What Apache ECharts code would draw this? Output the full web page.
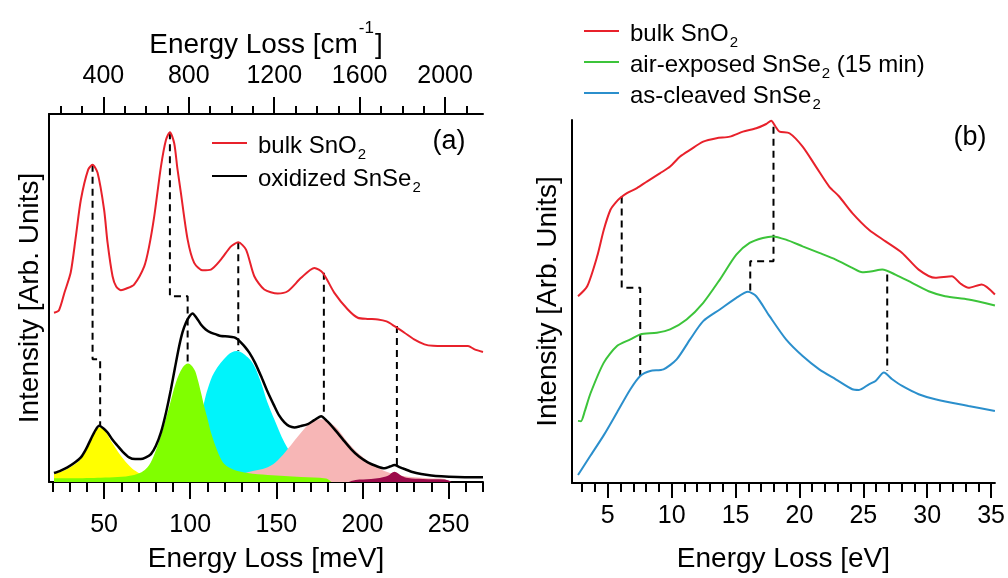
<!DOCTYPE html>
<html><head><meta charset="utf-8">
<script src="https://cdn.jsdelivr.net/npm/echarts@6.0.0/dist/echarts.min.js"></script>
<style>html,body{margin:0;padding:0;background:#fff}#c{width:1008px;height:578px}</style>
</head><body><div id="c"></div>
<script>
// ---------- Panel (a): HREELS, energy loss in meV ----------
const aTicksMajor = [50, 100, 150, 200, 250];
const aTicksMinor = [20, 30, 40, 60, 70, 80, 90, 110, 120, 130, 140, 160, 170, 180, 190, 210, 220, 230, 240, 260, 270];
const aTopTicksMajor = [400, 800, 1200, 1600, 2000];               // cm^-1
const aTopTicksMinor = [200, 300, 500, 600, 700, 900, 1000, 1100, 1300, 1400, 1500, 1700, 1800, 1900, 2100];

const bulkSnO2_a = [[20.9,169.7],[23.8,172.3],[27,190],[30.6,210],[33.5,245],[36.5,283],[40.7,313],[43.3,318],[46.2,310],[50,273],[52,240],[54.9,206.3],[57,196],[59.7,192.3],[63,194],[67.4,198],[73.3,216.3],[76,235],[79.1,266.3],[83,316.3],[85.9,343],[88.2,350.7],[90.7,339.7],[92.5,315],[94.6,289.7],[98.5,243],[102.3,219.7],[107.2,212.3],[112,213],[117.8,223],[123.7,236.3],[127.9,240.3],[132.4,233],[137.2,206.3],[143,193],[150.8,189],[156.6,191.3],[164.4,204.7],[172.1,214.7],[177,209.7],[183.7,189.7],[191.5,173],[197.3,164.7],[203,163.5],[209,163],[214,161],[218.6,156.3],[224.4,149.7],[230,143],[236,138],[241,136.5],[247.7,136.3],[255,136.3],[261.3,136.3],[265.1,133],[270,130.3]];

const oxidizedSnSe2 = [[20.9,9],[24.8,11.5],[28.7,14.7],[32.6,19],[36.5,24.7],[39.5,33],[42.3,43],[45,52],[47.1,56.3],[49.5,54],[52,49.7],[55,42],[57.8,36.3],[61,30],[64.5,24.7],[68,23],[71.3,23],[74,24.5],[77.2,28],[80,36],[83,49.7],[86,70],[88.8,93],[91.2,115],[93.6,136.3],[95.5,150],[97.5,159.7],[99.5,166],[101.4,169],[103.5,165],[106.2,158],[109,153],[112,149.7],[115,148],[117.8,146.3],[122,146],[125.6,145],[127.6,143],[129.5,139.7],[132,135],[134.3,129.7],[137.5,120],[141.1,106.3],[144.8,91],[148.8,76.3],[151.5,67],[154.7,59.7],[157.5,56],[160.5,54.7],[164,56],[168.3,58],[172,62],[176,66],[179.5,61],[183.7,53],[188.5,43],[193.4,33],[198,25.5],[203.1,19.7],[208,16],[212.8,13.7],[216,15.5],[218.6,17],[221.5,15],[224.4,13],[229,10],[234.1,8],[240,6.5],[245.8,5.7],[255,5],[262,4.8],[270,4.7]];

// fitted components
const compYellow = [[20.9,8],[28.7,13],[36.5,23],[41.3,39.7],[45.2,52],[47.1,54.7],[50,52.3],[53.9,41.3],[59.7,26.3],[65.5,14.7],[69.4,9.7],[75.2,4.7],[85,3],[110,2.5],[130,0]];
const compGreen = [[20.9,3.7],[48.1,4.3],[67.4,7],[75.2,14.7],[81,36.3],[86.9,69.7],[91.7,99.7],[95.6,114.7],[98.8,118.7],[102.3,113],[104.3,103],[106.2,90],[108.1,76],[110.1,63],[112,50],[114.9,35],[117,26],[119.8,18],[125.6,12],[133.4,9],[145,7],[164.4,5],[178.9,3.5],[182,0]];
const compCyan = [[92,5],[97,14],[100.4,30],[104,50],[108.1,80],[110.1,93],[114,110],[121.7,127],[127,131.3],[133.4,125],[137.2,116.3],[141.1,99.7],[144.8,80],[148.8,63],[154.7,39.7],[160,25],[164.4,16.3],[170,10],[174.1,8],[183.5,4.7],[191.5,3],[196,0]];
const compPink = [[106.2,4],[125.4,6.3],[133.4,9.7],[145,14.7],[151,22],[156.6,33],[164.4,49.7],[170.2,59.7],[176,63],[183.7,56.3],[191.5,39.7],[199.3,26.3],[207,16.3],[214.8,9.7],[222.6,6.3],[238,3.7],[247.7,3],[250,0]];
const compMaroon = [[192,0],[196,2],[205,3],[210,4],[214.8,6.3],[218.6,10.3],[222.6,6.3],[226.5,4],[235,3],[247.7,2.5],[252,0]];

const guideA1 = [[43.3,318],[43.3,123],[47.7,123],[47.7,56.3]];
const guideA2 = [[88.2,350.7],[88.2,186.3],[98.5,186.3],[98.5,119.7]];
const guideA3 = [[127.9,240.3],[127.9,131.3]];
const guideA4 = [[177.6,209.7],[177.6,68]];
const guideA5 = [[220,156.3],[220,16.3]];

// ---------- Panel (b): EELS, energy loss in eV ----------
const bTicksMajor = [5, 10, 15, 20, 25, 30, 35];
const bTicksMinor = [3,4,6,7,8,9,11,12,13,14,16,17,18,19,21,22,23,24,26,27,28,29,31,32,33,34];

const bulkSnO2_b = [[2.67,187.3],[3.39,197.3],[4.17,227.3],[4.69,254],[5.21,274],[5.6,281],[5.99,286],[6.5,290.7],[7.28,295.7],[8.06,302.3],[9.1,310.7],[9.88,317.3],[10.66,327.3],[11.44,334],[12.47,342.3],[13.51,345.7],[14.55,347.3],[15.58,352.3],[16.62,355.7],[17.4,360],[17.79,363.3],[18.1,358],[18.44,352.3],[19.22,350.7],[20.25,337.3],[21.29,317.3],[22.33,297.3],[23.11,287.3],[24.14,270.7],[25.44,254],[26.74,242.3],[28.04,230.7],[29.33,214],[30.63,205.7],[31.93,207.3],[32.6,200],[33.23,195.7],[34.26,199],[35.3,189]];
const airExposed = [[2.67,62.3],[2.9,62],[3.2,72],[3.65,90],[4.69,120.7],[5.72,137.3],[6.77,144],[7.54,149],[8.84,150.7],[9.88,154],[11.17,164],[12.47,180.7],[13.77,204],[15.06,229],[16.1,240.7],[17.14,245.7],[17.92,247.3],[18.95,244],[20.25,237.3],[21.55,230.7],[22.84,224],[24.14,215.7],[24.92,211.3],[25.7,212.3],[26.48,214],[27.51,209],[28.81,200.7],[30.11,192.3],[31.4,187.3],[33.23,184],[35.3,178]];
const asCleaved = [[2.67,8],[3.65,27.5],[4.69,48],[5.72,70.7],[6.77,94],[7.54,107.3],[8.32,112.3],[9.36,114],[10.39,124],[11.44,144],[12.47,162.3],[13.77,174],[15.06,185.7],[15.97,191.7],[16.62,187.3],[17.66,167.3],[18.95,144],[20.25,127.3],[21.55,114],[22.84,104],[24.14,94],[24.66,93.3],[25.44,99],[25.96,102.3],[26.61,110.7],[27.26,104],[28.04,97.3],[29.33,89],[30.63,84],[33.23,77.3],[35.3,72.3]];

const guideB1 = [[6.09,287.3],[6.09,195.7],[7.54,195.7],[7.54,107.3]];
const guideB2 = [[17.97,357.3],[17.97,222.3],[16.15,222.3],[16.15,192.3]];
const guideB3 = [[26.87,209],[26.87,112.3]];

// ---------- chart ----------
const FONT = "'Liberation Sans', Arial, Helvetica, sans-serif";
const MEV_TO_CM = 8.0655;
const A_MIN = 18, A_MAX = 270, B_MIN = 2.2, B_MAX = 35.3;

const axisLineStyle = {show: true, onZero: false, lineStyle: {color: '#000', width: 2}};
function xAx(grid, pos, min, max, ticks, len, labels, margin, extra) {
  return Object.assign({
    type: 'value', gridIndex: grid, position: pos, min, max,
    axisLine: axisLineStyle,
    axisTick: {show: true, inside: false, customValues: ticks, length: len, lineStyle: {color: '#000', width: 2}},
    axisLabel: labels ? {show: true, customValues: labels, margin, fontSize: 25, color: '#000', fontFamily: FONT,
                         formatter: v => String(v)} : {show: false},
    splitLine: {show: false}, minorTick: {show: false}
  }, extra || {});
}
const nameStyle = {fontSize: 28, color: '#000', fontFamily: FONT, lineHeight: 28};

const legendRich = {
  t: {fontSize: 24, lineHeight: 24, color: '#000', fontFamily: FONT, verticalAlign: 'top', padding: [3, 0, 0, 6]},
  u: {fontSize: 24, lineHeight: 24, color: '#000', fontFamily: FONT, verticalAlign: 'top', padding: [3, 0, 0, 0]},
  s: {fontSize: 15, lineHeight: 15, color: '#000', fontFamily: FONT, verticalAlign: 'top', padding: [16, 0, 0, 1]}
};
const legendLabels = {
  'bulk SnO2 (a)': '{t|bulk SnO}{s|2}',
  'oxidized SnSe2': '{t|oxidized SnSe}{s|2}',
  'bulk SnO2 (b)': '{t|bulk SnO}{s|2}',
  'air-exposed SnSe2 (15 min)': '{t|air-exposed SnSe}{s|2}{u| (15 min)}',
  'as-cleaved SnSe2': '{t|as-cleaved SnSe}{s|2}'
};
function legendCfg(data, left, top, gap) {
  return {data, left, top, orient: 'vertical', padding: 0, itemGap: gap, itemWidth: 35, itemHeight: 2, icon: 'rect',
    selectedMode: false, formatter: n => legendLabels[n], textStyle: {rich: legendRich}};
}
function line(name, data, xi, yi, color, width, z) {
  return {type: 'line', name, data, xAxisIndex: xi, yAxisIndex: yi, symbol: 'none', color,
    lineStyle: {color, width}, z: z || 4, smooth: 0.25};
}
function fill(name, data, color) {
  return {type: 'line', name, data, xAxisIndex: 0, yAxisIndex: 0, symbol: 'none', smooth: 0.35,
    lineStyle: {width: 0}, areaStyle: {color, opacity: 1}, z: 2, color};
}
function guide(name, data, xi, yi) {
  return {type: 'line', name, data, xAxisIndex: xi, yAxisIndex: yi, symbol: 'none',
    lineStyle: {color: '#000', width: 2, type: [7, 5]}, z: 3, silent: true};
}

const chart = echarts.init(document.getElementById('c'), null, {renderer: 'canvas'});
chart.setOption({
  animation: false,
  backgroundColor: '#fff',
  textStyle: {fontFamily: FONT},
  grid: [
    {left: 49, right: 525, top: 114, bottom: 95},
    {left: 572, right: 11, top: 120, bottom: 94}
  ],
  xAxis: [
    xAx(0, 'bottom', A_MIN, A_MAX, aTicksMajor, 17, aTicksMajor, 31,
        {name: 'Energy Loss [meV]', nameLocation: 'middle', nameGap: 63, nameTextStyle: nameStyle}),
    xAx(0, 'bottom', A_MIN, A_MAX, aTicksMinor, 10, null, 0, {axisLine: {show: false}}),
    xAx(0, 'top', A_MIN * MEV_TO_CM, A_MAX * MEV_TO_CM, aTopTicksMajor, 17, aTopTicksMajor, 25,
        {name: '{t|Energy Loss [cm}{p|-1}{t|]}', nameLocation: 'middle', nameGap: 62,
         nameTextStyle: {rich: {
           t: {fontSize: 28, lineHeight: 28, color: '#000', fontFamily: FONT, verticalAlign: 'top', padding: [11, 0, 0, 0]},
           p: {fontSize: 17, lineHeight: 17, color: '#000', fontFamily: FONT, verticalAlign: 'top', padding: [0, 1, 0, 1]}
         }}}),
    xAx(0, 'top', A_MIN * MEV_TO_CM, A_MAX * MEV_TO_CM, aTopTicksMinor, 8, null, 0, {axisLine: {show: false}}),
    xAx(1, 'bottom', B_MIN, B_MAX, bTicksMajor, 15, bTicksMajor, 21,
        {name: 'Energy Loss [eV]', nameLocation: 'middle', nameGap: 62, nameTextStyle: nameStyle}),
    xAx(1, 'bottom', B_MIN, B_MAX, bTicksMinor, 9, null, 0, {axisLine: {show: false}})
  ],
  yAxis: [
    {type: 'value', gridIndex: 0, min: 0, max: 369, axisLine: axisLineStyle, axisTick: {show: false},
     axisLabel: {show: false}, splitLine: {show: false},
     name: 'Intensity [Arb. Units]', nameLocation: 'middle', nameGap: 5, nameTextStyle: nameStyle},
    {type: 'value', gridIndex: 1, min: 0, max: 364, axisLine: axisLineStyle, axisTick: {show: false},
     axisLabel: {show: false}, splitLine: {show: false},
     name: 'Intensity [Arb. Units]', nameLocation: 'middle', nameGap: 10, nameTextStyle: nameStyle}
  ],
  legend: [
    legendCfg(['bulk SnO2 (a)', 'oxidized SnSe2'], 212, 131, 2),
    legendCfg(['bulk SnO2 (b)', 'air-exposed SnSe2 (15 min)', 'as-cleaved SnSe2'], 584, 19, 0)
  ],
  graphic: [
    {type: 'text', x: 449, y: 142, style: {text: '(a)', fontSize: 27, fontFamily: FONT, fill: '#000', align: 'center', verticalAlign: 'middle'}},
    {type: 'text', x: 970, y: 138, style: {text: '(b)', fontSize: 27, fontFamily: FONT, fill: '#000', align: 'center', verticalAlign: 'middle'}}
  ],
  series: [
    fill('comp 1', compYellow, '#ffff00'),
    fill('comp 3', compCyan, '#00f4fb'),
    fill('comp 4', compPink, '#f7b6b6'),
    fill('comp 2', compGreen, '#80ff00'),
    fill('comp 5', compMaroon, '#9c0a4a'),
    guide('ga1', guideA1, 0, 0), guide('ga2', guideA2, 0, 0), guide('ga3', guideA3, 0, 0),
    guide('ga4', guideA4, 0, 0), guide('ga5', guideA5, 0, 0),
    line('oxidized SnSe2', oxidizedSnSe2, 0, 0, '#000000', 2.5, 5),
    line('bulk SnO2 (a)', bulkSnO2_a, 0, 0, '#e8212b', 2, 5),
    guide('gb1', guideB1, 4, 1), guide('gb2', guideB2, 4, 1), guide('gb3', guideB3, 4, 1),
    line('bulk SnO2 (b)', bulkSnO2_b, 4, 1, '#e8212b', 2, 5),
    line('air-exposed SnSe2 (15 min)', airExposed, 4, 1, '#3cc43a', 2, 5),
    line('as-cleaved SnSe2', asCleaved, 4, 1, '#2b8fcc', 2, 5)
  ]
});
</script></body></html>
